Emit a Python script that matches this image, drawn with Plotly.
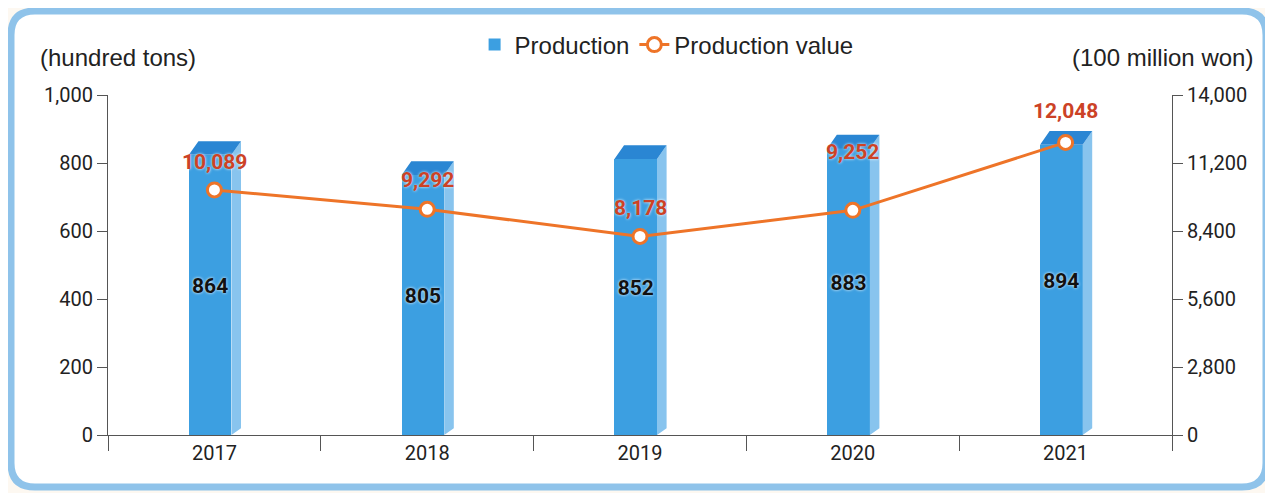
import plotly.graph_objects as go

years = ["2017", "2018", "2019", "2020", "2021"]
production = [864, 805, 852, 883, 894]
production_value = [10089, 9292, 8178, 9252, 12048]
left_ticks = [0, 200, 400, 600, 800, 1000]
right_ticks = [0, 2800, 5600, 8400, 11200, 14000]

# styling
label_shift = [28, 29, 28, 58, 31]
FRONT = "#3c9fe1"
TOP = "#2a86d3"
SIDE = "#88c4ee"
ORANGE = "#ee7428"
LABEL_RED = "#cc4226"
AXIS = "#555555"
TXT = "#222222"
TICKFONT = dict(family="Roboto", size=20, color=TXT)

xs = list(range(len(years)))
depth = 40      # vertical depth of top face (data units)
x0off, x1off, dx = -0.12, 0.08, 0.045

fig = go.Figure()

# front face
fig.add_trace(go.Bar(
    x=xs, y=[v - depth for v in production], base=0,
    width=x1off - x0off, offset=x0off,
    marker=dict(color=FRONT, line=dict(width=0)),
    name="Production", showlegend=True, hoverinfo="skip",
))

# side and top faces
sx, sy = [], []
tx, ty = [], []
for i, v in zip(xs, production):
    sx += [i + x1off, i + x1off + dx, i + x1off + dx, i + x1off, i + x1off, None]
    sy += [0, 20, v, v - depth, 0, None]
    tx += [i + x0off, i + x1off, i + x1off + dx, i + x0off + dx, i + x0off, None]
    ty += [v - depth, v - depth, v, v, v - depth, None]
fig.add_trace(go.Scatter(x=sx, y=sy, fill="toself", fillcolor=SIDE, mode="lines",
                         line=dict(width=0, color=SIDE), showlegend=False, hoverinfo="skip"))
fig.add_trace(go.Scatter(x=tx, y=ty, fill="toself", fillcolor=TOP, mode="lines",
                         line=dict(width=0, color=TOP), showlegend=False, hoverinfo="skip"))

# bar value labels
fig.add_trace(go.Scatter(
    x=[i + (x0off + x1off) / 2 for i in xs], y=[v / 2 for v in production], mode="text",
    text=[str(v) for v in production],
    textfont=dict(family="Roboto", size=21, color="#111111", weight="bold",
                  shadow="0px 0px 3px white"),
    showlegend=False, hoverinfo="skip",
))

# line
fig.add_trace(go.Scatter(
    x=xs, y=production_value, yaxis="y2", mode="lines+markers",
    line=dict(color=ORANGE, width=3),
    marker=dict(size=14, color="white", line=dict(color=ORANGE, width=3)),
    name="Production value", cliponaxis=False,
))

for i, v, s in zip(xs, production_value, label_shift):
    fig.add_annotation(x=i, y=v, xref="x", yref="y2", yshift=s, showarrow=False,
                       text=f"{v:,}",
                       font=dict(family="Roboto", size=21, color=LABEL_RED, weight="bold",
                                 shadow="0px 0px 3px white"))

# axis titles
fig.add_annotation(xref="paper", yref="paper", x=-0.066, y=1.109, xanchor="left",
                   yanchor="middle", text="(hundred tons)", showarrow=False,
                   font=dict(family="Liberation Sans", size=24, color=TXT))
fig.add_annotation(xref="paper", yref="paper", x=1.078, y=1.109, xanchor="right",
                   yanchor="middle", text="(100 million won)", showarrow=False,
                   font=dict(family="Liberation Sans", size=24, color=TXT))

# frame (page pixel coords -> paper coords)
W, H = 1064.0, 340.0
def px(p):
    return (p - 108) / W
def py(p):
    return (435 - p) / H
L, R, T, B, r = 11, 1266, 11, 487, 24
path = (f"M {px(L + r)} {py(T)} L {px(R - r)} {py(T)} Q {px(R)} {py(T)} {px(R)} {py(T + r)} "
        f"L {px(R)} {py(B - r)} Q {px(R)} {py(B)} {px(R - r)} {py(B)} "
        f"L {px(L + r)} {py(B)} Q {px(L)} {py(B)} {px(L)} {py(B - r)} "
        f"L {px(L)} {py(T + r)} Q {px(L)} {py(T)} {px(L + r)} {py(T)} Z")
fig.add_shape(type="path", path=path, xref="paper", yref="paper",
              line=dict(color="#8fc3ea", width=7), fillcolor="white", layer="below")

fig.update_layout(
    width=1265, height=485,
    margin=dict(l=100, r=101, t=87, b=58),
    paper_bgcolor="#fdf8f1", plot_bgcolor="rgba(0,0,0,0)",
    showlegend=True,
    legend=dict(orientation="h", x=0.525, xanchor="center", y=1.147, yanchor="middle",
                font=dict(family="Liberation Sans", size=24, color=TXT),
                bgcolor="rgba(0,0,0,0)", itemwidth=30),
    xaxis=dict(range=[-0.5, 4.5], tickvals=xs, ticktext=years, ticks="",
               showgrid=False, zeroline=False, showline=True, linecolor=AXIS, linewidth=1,
               tickfont=TICKFONT,
               minor=dict(tickvals=[-0.5, 0.5, 1.5, 2.5, 3.5, 4.5], ticks="outside",
                          ticklen=15, tickcolor=AXIS, tickwidth=1, showgrid=False)),
    yaxis=dict(range=[0, 1000], tickvals=left_ticks, tickformat=",", ticks="outside",
               ticklen=10, tickcolor=AXIS, showgrid=False, zeroline=False,
               showline=True, linecolor=AXIS, linewidth=1, tickfont=TICKFONT),
    yaxis2=dict(range=[0, 14000], tickvals=right_ticks, tickformat=",", ticks="outside",
                ticklen=10, tickcolor=AXIS, showgrid=False, zeroline=False,
                showline=True, linecolor=AXIS, linewidth=1, tickfont=TICKFONT,
                overlaying="y", side="right"),
    bargap=0,
)

fig.write_html("out.html")
